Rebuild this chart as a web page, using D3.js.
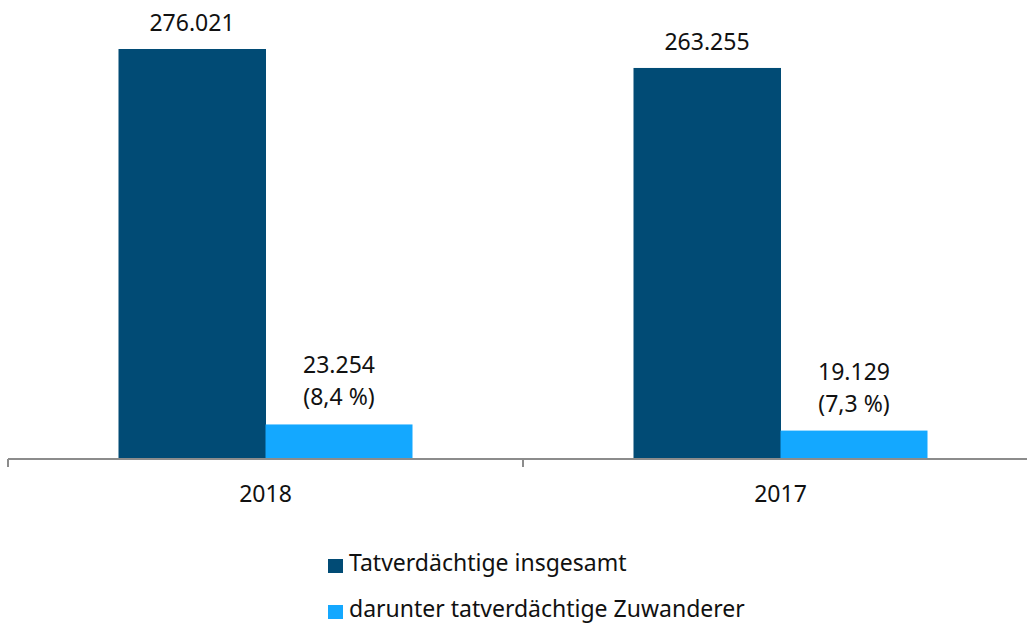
<!DOCTYPE html>
<html>
<head>
<meta charset="utf-8">
<script src="https://cdn.jsdelivr.net/npm/d3@7"></script>
<style>
  html, body { margin: 0; padding: 0; background: #fff; }
  svg { display: block; font-family: "Noto Sans", "Open Sans", sans-serif; }
</style>
</head>
<body>
<svg id="chart" width="1027" height="624"></svg>
<script>
// Jahre (Kategorien) und Werte der beiden Reihen
const years = ["2018", "2017"];
const seriesNames = ["Tatverdächtige insgesamt", "darunter tatverdächtige Zuwanderer"];
const totalSuspects = [276021, 263255];
const immigrantSuspects = [23254, 19129];
const immigrantShare = ["8,4 %", "7,3 %"];
const colors = ["#014b75", "#14a8ff"];

const svg = d3.select("#chart");
const baseY = 459, topY = 49;
const fs = 23;

const x = d3.scaleBand().domain(years).range([8, 1038]).paddingInner(0).paddingOuter(0);
const y = d3.scaleLinear().domain([0, 276021]).range([baseY, topY]);

const fmt = v => d3.format(",")(v).replace(/,/g, ".");
const barW = 147;

const rows = years.map((yr, i) => ({
  year: yr,
  values: [totalSuspects[i], immigrantSuspects[i]],
  share: immigrantShare[i]
}));

const groups = svg.selectAll("g.year").data(rows).join("g")
  .attr("class", "year")
  .attr("transform", d => `translate(${x(d.year) + x.bandwidth() / 2},0)`);

groups.each(function (d) {
  const g = d3.select(this);
  d.values.forEach((v, k) => {
    const x0 = k === 0 ? -barW : 0;
    g.append("rect")
      .attr("x", x0).attr("width", barW + (k === 0 ? 0.5 : 0))
      .attr("y", y(v)).attr("height", baseY - y(v))
      .attr("fill", colors[k]);
    const t = g.append("text")
      .attr("text-anchor", "middle")
      .attr("font-size", fs)
      .attr("fill", "#111");
    if (k === 0) {
      t.attr("x", x0 + barW / 2).attr("y", y(v) - 18).text(fmt(v));
    } else {
      t.attr("x", x0 + barW / 2).attr("y", y(v) - 51).text(fmt(v));
      g.append("text")
        .attr("text-anchor", "middle")
        .attr("font-size", fs)
        .attr("fill", "#111")
        .attr("x", x0 + barW / 2).attr("y", y(v) - 19)
        .text(`(${d.share})`);
    }
  });
});

// x-Achse
const axis = svg.append("g").attr("transform", `translate(0,${baseY})`);
axis.append("line").attr("x1", 8).attr("x2", 1027).attr("y1", 0).attr("y2", 0)
  .attr("stroke", "#8c8c8c").attr("stroke-width", 2);
const tickXs = [x("2018"), x("2017")];
axis.selectAll("line.tick").data(tickXs).join("line")
  .attr("class", "tick")
  .attr("x1", d => d).attr("x2", d => d)
  .attr("y1", 0).attr("y2", 8)
  .attr("stroke", "#8c8c8c").attr("stroke-width", 2);
axis.selectAll("text.lbl").data(years).join("text")
  .attr("class", "lbl")
  .attr("x", d => x(d) + x.bandwidth() / 2)
  .attr("y", 43)
  .attr("text-anchor", "middle")
  .attr("font-size", fs)
  .attr("fill", "#111")
  .text(d => d);

// Legende
const legend = svg.append("g").attr("transform", "translate(328,0)");
seriesNames.forEach((name, i) => {
  const yy = 559 + i * 46;
  legend.append("rect").attr("x", 0).attr("y", yy).attr("width", 15).attr("height", 14)
    .attr("fill", colors[i]);
  legend.append("text").attr("x", 21).attr("y", yy + 12)
    .attr("font-size", fs).attr("fill", "#111").text(name);
});
</script>
</body>
</html>
